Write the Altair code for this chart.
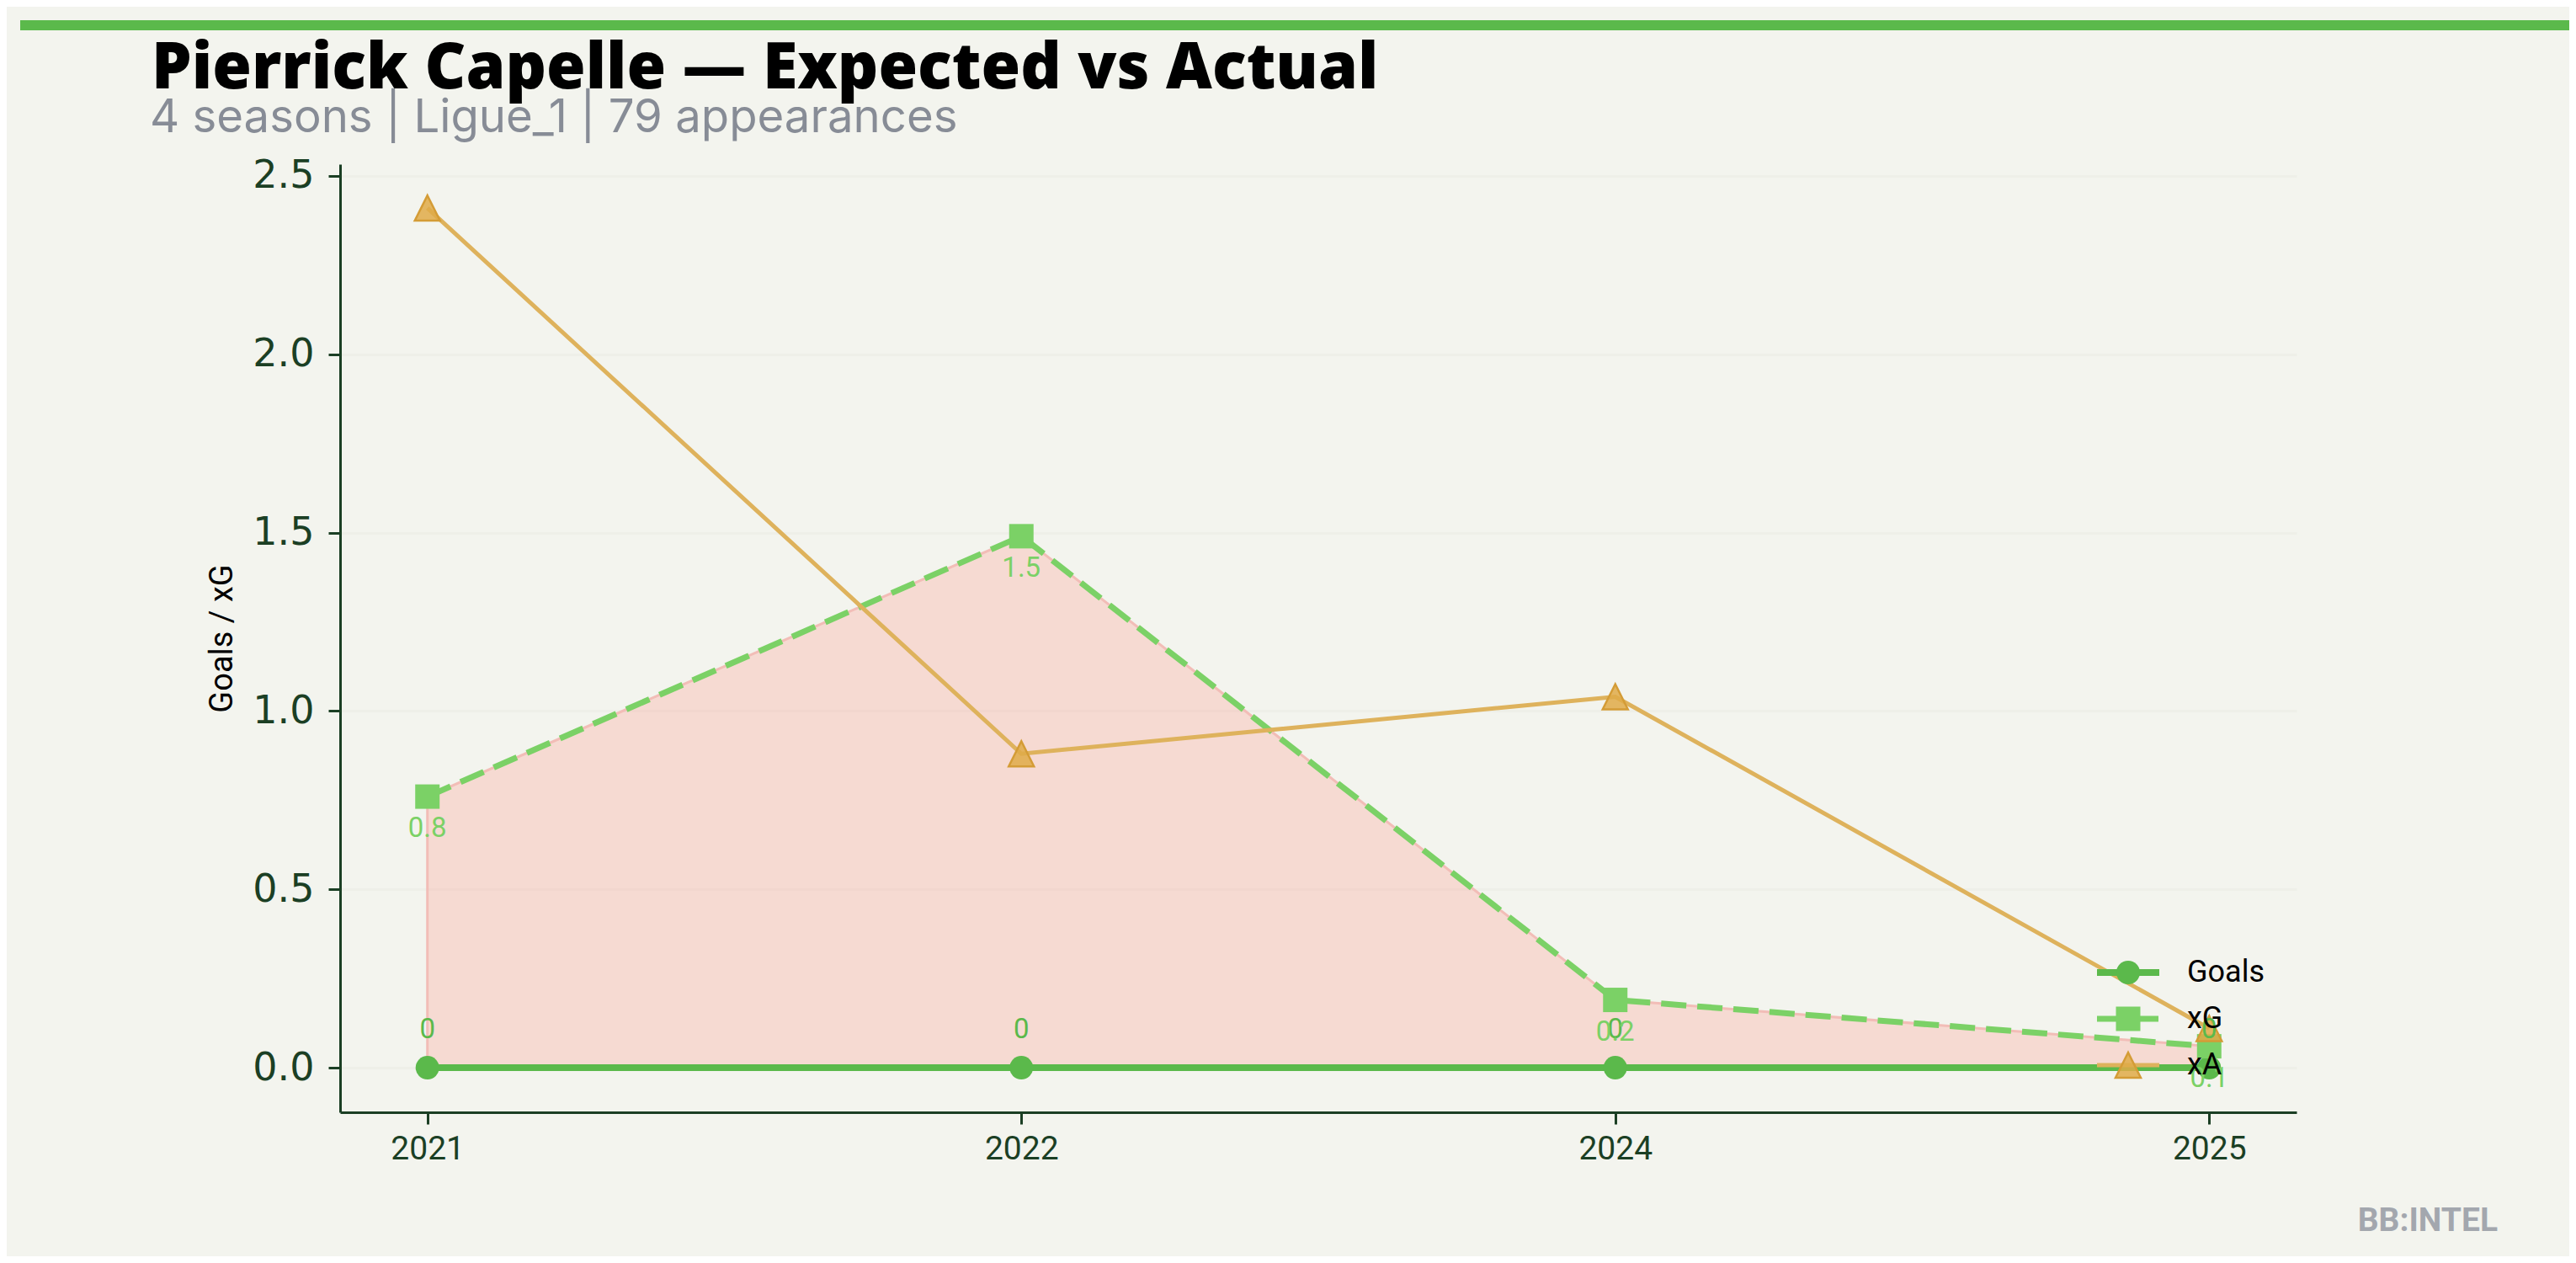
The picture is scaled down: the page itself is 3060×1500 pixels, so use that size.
import altair as alt
import pandas as pd

# ---------------- data ----------------
seasons = ["2021", "2022", "2024", "2025"]
goals = [0, 0, 0, 0]
xg = [0.76, 1.49, 0.19, 0.06]
xa = [2.41, 0.88, 1.04, 0.11]
legend_names = ["Goals", "xG", "xA"]
y_ticks = [0.0, 0.5, 1.0, 1.5, 2.0, 2.5]

title_text = "Pierrick Capelle — Expected vs Actual"
subtitle_text = "4 seasons | Ligue_1 | 79 appearances"
y_title = "Goals / xG"
watermark = "BB:INTEL"

# ---------------- style ----------------
BG = "#f3f4ee"
AX = "#1b3f24"
GREEN = "#5bb94b"
LGREEN = "#7bd166"
GOLD = "#deb25c"
GOLD_FILL = "#dfaa48"
GOLD_EDGE = "#d49c36"
TRI = "M0,-1L-1,1L1,1Z"

W, H = 2324, 1126

df = pd.DataFrame({"season": seasons, "goals": goals, "xg": xg, "xa": xa})
df["goals_lbl"] = [str(int(v)) for v in goals]
df["xg_lbl"] = [f"{v:.1f}" for v in xg]

x_enc = alt.X(
    "season:O",
    sort=seasons,
    scale=alt.Scale(type="point", padding=0.147),
    axis=alt.Axis(title=None, labelAngle=0, labelFont="Roboto", labelFontSize=39,
                  labelColor=AX, labelPadding=10, grid=False),
)
y_scale = alt.Scale(domain=[-0.125, 2.533], nice=False, zero=False)
y_axis = alt.Axis(values=y_ticks, format=".1f", title=y_title, labelFont="DejaVu Sans",
                  labelFontSize=46, labelColor=AX, labelPadding=17, titleFont="Roboto",
                  titleFontSize=38, titleFontWeight="normal", titleColor="#000000",
                  titlePadding=16, grid=True, gridColor="#eeefe8", gridWidth=3)


def Y(field):
    return alt.Y(f"{field}:Q", scale=y_scale, axis=y_axis)


base = alt.Chart(df)

area = base.mark_area(fill="#ff8a80", fillOpacity=0.25, stroke="#f2bdb7",
                      strokeWidth=3).encode(x=x_enc, y=Y("xg"), y2="goals:Q")

goals_line = base.mark_line(color=GREEN, strokeWidth=8).encode(x=x_enc, y=Y("goals"))
goals_pts = base.mark_point(shape="circle", filled=True, size=784, color=GREEN,
                            opacity=1).encode(x=x_enc, y=Y("goals"))

xg_line = base.mark_line(color=LGREEN, strokeWidth=7, strokeDash=[30, 13]).encode(
    x=x_enc, y=Y("xg"))
xg_pts = base.mark_point(shape="square", filled=True, size=841, color=LGREEN,
                         opacity=1).encode(x=x_enc, y=Y("xg"))

xa_line = base.mark_line(color=GOLD, strokeWidth=5).encode(x=x_enc, y=Y("xa"))
xa_pts = base.mark_point(shape=TRI, size=900, fill=GOLD_FILL, fillOpacity=0.85,
                         stroke=GOLD_EDGE, strokeWidth=2.5, opacity=1).encode(
    x=x_enc, y=Y("xa"))

goals_txt = base.mark_text(font="Roboto", fontSize=33, color=GREEN, dy=-45,
                           baseline="middle").encode(x=x_enc, y=Y("goals"), text="goals_lbl:N")
xg_txt = base.mark_text(font="Roboto", fontSize=33, color=LGREEN, dy=38,
                        baseline="middle").encode(x=x_enc, y=Y("xg"), text="xg_lbl:N")

main = alt.layer(area, goals_line, goals_pts, xg_line, xg_pts, xa_line, xa_pts,
                 goals_txt, xg_txt)

# ---------------- legend ----------------
leg_df = pd.DataFrame({"name": legend_names})
leg_y = alt.Y("name:N", sort=legend_names,
              scale=alt.Scale(type="point", domain=legend_names, range=[960, 1070], padding=0),
              axis=None)
leg_base = alt.Chart(leg_df)

leg_layers = []
leg_styles = {
    "Goals": dict(color=GREEN, width=8, dash=[1, 0]),
    "xG": dict(color=LGREEN, width=7, dash=[30, 13]),
    "xA": dict(color=GOLD, width=5, dash=[1, 0]),
}
for nm in legend_names:
    st = leg_styles[nm]
    leg_layers.append(
        leg_base.transform_filter(alt.datum.name == nm)
        .mark_rule(color=st["color"], strokeWidth=st["width"], strokeDash=st["dash"])
        .encode(x=alt.value(2087), x2=alt.value(2161), y=leg_y)
    )
leg_layers.append(leg_base.transform_filter(alt.datum.name == "Goals")
                  .mark_point(shape="circle", filled=True, size=784, color=GREEN, opacity=1)
                  .encode(x=alt.value(2124), y=leg_y))
leg_layers.append(leg_base.transform_filter(alt.datum.name == "xG")
                  .mark_point(shape="square", filled=True, size=841, color=LGREEN, opacity=1)
                  .encode(x=alt.value(2124), y=leg_y))
leg_layers.append(leg_base.transform_filter(alt.datum.name == "xA")
                  .mark_point(shape=TRI, size=900, fill=GOLD_FILL, fillOpacity=0.85,
                              stroke=GOLD_EDGE, strokeWidth=2.5, opacity=1)
                  .encode(x=alt.value(2124), y=leg_y))
leg_layers.append(leg_base.mark_text(font="Roboto", fontSize=36, color="#000000",
                                     align="left", baseline="middle")
                  .encode(x=alt.value(2194), y=leg_y, text="name:N"))

# ---------------- titles / decorations ----------------
one = pd.DataFrame({"t": [title_text], "s": [subtitle_text], "w": [watermark]})
deco = alt.Chart(one)
bar = deco.mark_rule(color=GREEN, strokeWidth=12).encode(
    x=alt.value(-380), x2=alt.value(2700), y=alt.value(-165))
title = deco.mark_text(font="Open Sans", fontSize=75.5, fontWeight=800, color="#000000",
                       align="left", baseline="alphabetic").encode(
    x=alt.value(-224), y=alt.value(-90), text="t:N")
subtitle = deco.mark_text(font="Inter", fontSize=54.5, color="#878c96",
                          align="left", baseline="alphabetic").encode(
    x=alt.value(-226), y=alt.value(-38), text="s:N")
wm = deco.mark_text(font="Roboto", fontSize=39, fontWeight="bold", color="#a3a7ae",
                    align="right", baseline="alphabetic").encode(
    x=alt.value(2563), y=alt.value(1267), text="w:N")

overlay = alt.layer(*leg_layers, bar, title, subtitle, wm)

chart = (
    alt.layer(main, overlay)
    .resolve_scale(y="independent", x="independent")
    .properties(
        width=W, height=H,
        background=BG,
        autosize=alt.AutoSizeParams(type="none"),
        padding={"left": 396, "top": 187, "right": 324, "bottom": 171},
    )
    .configure_view(stroke=None)
    .configure_axis(domainColor=AX, domainWidth=3, tickColor=AX, tickWidth=3, tickSize=14)
)

chart.save("out.html", embed_options={"renderer": "svg", "actions": False})
